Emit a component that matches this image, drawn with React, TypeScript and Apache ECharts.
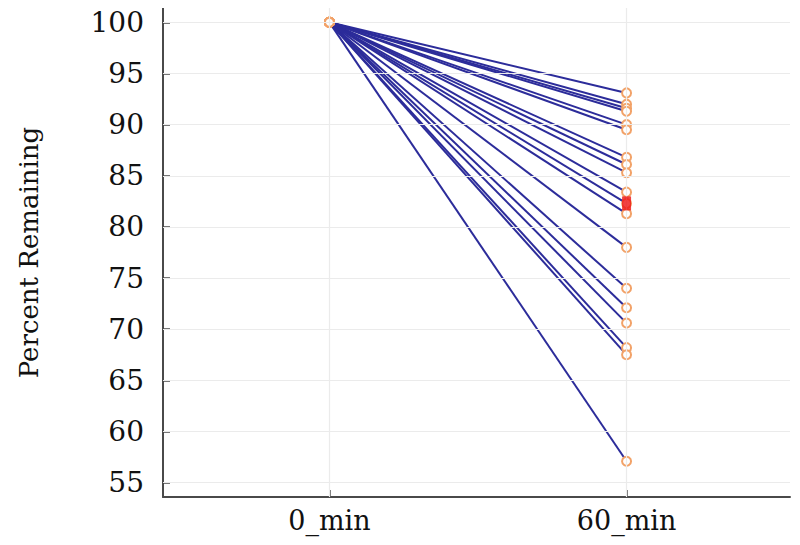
import React, { useEffect, useRef } from "react";
import * as echarts from "echarts";

const categories = ["0_min", "60_min"];
const startValue = 100;
const finalValues = [93.1, 92.0, 91.6, 91.3, 90.0, 89.5, 86.8, 86.1, 85.3, 83.4, 82.3, 81.3, 78.0, 74.0, 72.1, 70.6, 68.2, 67.5, 57.1];
const highlightIndex = 10;
const yTicks = [55, 60, 65, 70, 75, 80, 85, 90, 95, 100];
const yMin = 53.6;
const yMax = 101.4;
const xMin = -0.56;
const xMax = 1.55;

const FONT = "DejaVu Serif";
const AXIS_COLOR = "#4a4a4a";
const GRID_COLOR = "#ebebeb";
const LINE_COLOR = "#2c2c9a";
const MARK_COLOR = "#f2a268";

export default function App() {
  const ref = useRef<HTMLDivElement>(null);
  useEffect(() => {
    if (!ref.current) return;
    const chart = echarts.init(ref.current, null, { renderer: "svg" });
    const xIdx = categories.map((_, i) => i);

    const gridSeries: any = {
      type: "line",
      data: [],
      z: 1,
      silent: true,
      markLine: {
        silent: true,
        symbol: "none",
        label: { show: false },
        lineStyle: { color: GRID_COLOR, width: 1.2, type: "solid" },
        data: [
          ...yTicks.map((v) => ({ yAxis: v })),
          ...xIdx.map((v) => ({ xAxis: v })),
        ],
      },
    };

    const lineSeries = finalValues.map((v) => ({
      type: "line",
      z: 3,
      data: [
        [0, startValue],
        [1, v],
      ],
      lineStyle: { color: LINE_COLOR, width: 2 },
      symbol: "emptyCircle",
      symbolSize: 9,
      showAllSymbol: true,
      itemStyle: { color: MARK_COLOR, borderColor: MARK_COLOR, borderWidth: 1.4 },
      emphasis: { disabled: true },
    }));

    const highlightSeries = {
      type: "scatter",
      z: 5,
      data: [[1, finalValues[highlightIndex]]],
      symbol: "rect",
      symbolSize: [9, 14],
      itemStyle: { color: "#ee1111" },
      silent: true,
    };

    chart.setOption({
      animation: false,
      grid: { left: 163, right: 10, top: 8, bottom: 48, containLabel: false },
      xAxis: {
        type: "value",
        min: xMin,
        max: xMax,
        axisLine: { show: true, onZero: false, lineStyle: { color: AXIS_COLOR, width: 2 } },
        axisTick: { show: true, inside: true, length: 7, customValues: xIdx, lineStyle: { color: AXIS_COLOR, width: 1.5 } },
        axisLabel: {
          customValues: xIdx,
          formatter: (v: number) => categories[Math.round(v)] ?? "",
          fontFamily: FONT,
          fontSize: 27,
          color: "#111",
          margin: 10,
        },
        splitLine: { show: false },
      },
      yAxis: {
        type: "value",
        min: yMin,
        max: yMax,
        name: "Percent Remaining",
        nameLocation: "middle",
        nameGap: 121,
        nameTextStyle: { fontFamily: FONT, fontSize: 26, color: "#111" },
        axisLine: { show: true, onZero: false, lineStyle: { color: AXIS_COLOR, width: 2 } },
        axisTick: { show: true, inside: true, length: 7, customValues: yTicks, lineStyle: { color: AXIS_COLOR, width: 1.5 } },
        axisLabel: {
          customValues: yTicks,
          fontFamily: FONT,
          fontSize: 28,
          color: "#111",
          margin: 19,
        },
        splitLine: { show: false },
      },
      series: [gridSeries, ...lineSeries, highlightSeries],
    });
    return () => chart.dispose();
  }, []);
  return <div ref={ref} style={{ width: 800, height: 545, margin: -8 }} />;
}
